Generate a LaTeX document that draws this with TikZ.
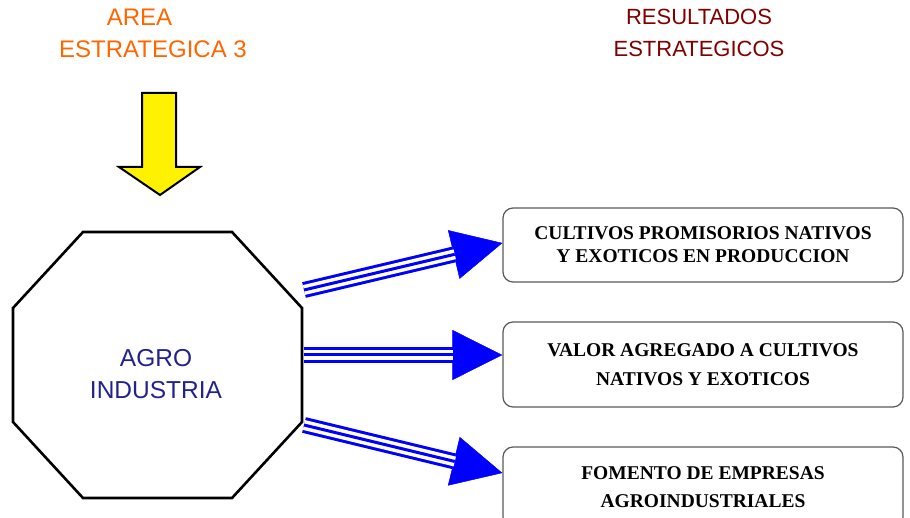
\documentclass[tikz,border=0pt]{standalone}
\usepackage{fontspec}
\setmainfont{Liberation Serif}
\setsansfont{Liberation Sans}
\usetikzlibrary{arrows.meta}
\definecolor{areaorange}{HTML}{FF6600}
\definecolor{resred}{HTML}{800000}
\definecolor{agronavy}{HTML}{22228F}

\begin{document}
\begin{tikzpicture}[x=1pt,y=-1pt,
        title/.style={font=\sffamily\fontsize{24}{32}\selectfont,align=center,inner sep=0pt},
        resbox/.style={draw=black!65,line width=1.2pt,rounded corners=10pt,minimum width=400pt,
            align=center,font=\bfseries\fontsize{19.5}{23}\selectfont},
        triline/.style={draw=blue,line width=16pt,-{Triangle[length=50pt,width=50pt,line width=0.5pt]},
            postaction={draw=white,line width=10pt,-,shorten >=49pt},
            postaction={draw=blue,line width=3pt,-,shorten >=49pt}}]
    \useasboundingbox (0,0) rectangle (910,518);
    % titles
    \node[title,text=areaorange] (area) at (153,33) {\hspace*{-27pt}AREA\\ESTRATEGICA 3};
    \node[title,text=resred,font=\sffamily\fontsize{22}{32}\selectfont] (resultados) at (699,33) {RESULTADOS\\ESTRATEGICOS};
    % yellow arrow into the octagon
    \draw[fill=yellow,line width=2pt,line join=miter] (142,93) -- (176,93) -- (176,167) -- (200,167)
        -- (160,195) -- (119,167) -- (142,167) -- cycle;
    % octagon
    \draw[line width=2.6pt,line join=miter] (83,232) -- (232,232) -- (302,308) -- (302,422)
        -- (232,498) -- (83,498) -- (13,422) -- (13,308) -- cycle;
    \node[title,text=agronavy,font=\sffamily\fontsize{24.5}{32}\selectfont] (agro) at (156,374) {AGRO\\INDUSTRIA};
    % results
    \node[resbox,minimum height=74pt] (r1) at (703,245) {CULTIVOS PROMISORIOS NATIVOS\\Y EXOTICOS EN PRODUCCION};
    \node[resbox,minimum height=85pt] (r2) at (703,364.5) {VALOR AGREGADO A CULTIVOS\\[6pt]NATIVOS Y EXOTICOS};
    \node[resbox,minimum height=80pt] (r3) at (703,487) {FOMENTO DE EMPRESAS\\[5pt]AGROINDUSTRIALES};
    % blue arrows
    \coordinate (t1) at (304,290);
    \coordinate (t2) at (304,355);
    \coordinate (t3) at (304,425);
    \draw[triline] (t1) -- ([yshift=2pt]r1.west);
    \draw[triline] (t2) -- ([yshift=9.5pt]r2.west);
    \draw[triline] (t3) -- ([yshift=14pt]r3.west);
\end{tikzpicture}
\end{document}
